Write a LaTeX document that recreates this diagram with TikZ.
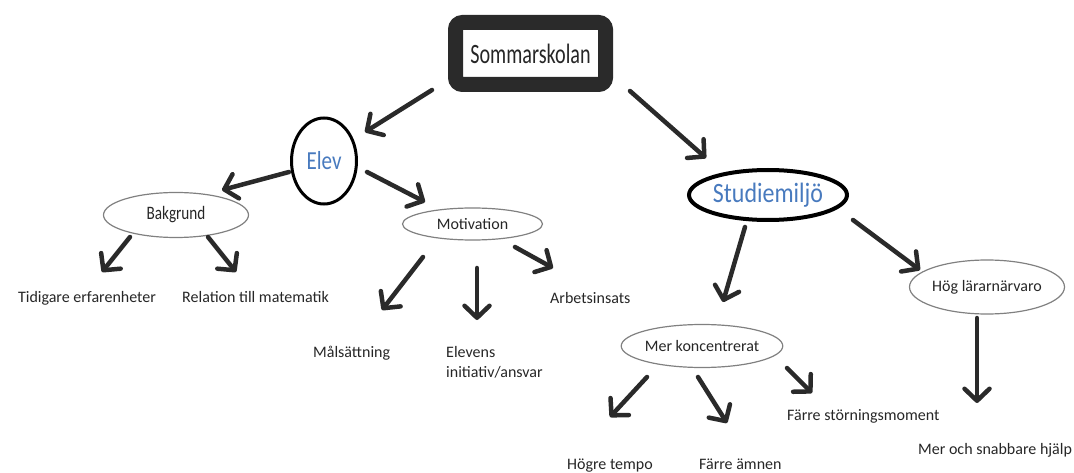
\documentclass[tikz,border=0pt]{standalone}
\usepackage{fontspec}
\setmainfont{Carlito}
\usetikzlibrary{shapes.geometric,arrows.meta,calc}
\definecolor{ink}{HTML}{262626}
\definecolor{arrowc}{HTML}{2A2A2A}
\definecolor{bluetxt}{RGB}{72,122,190}
\definecolor{thin}{HTML}{808080}
\newcommand\myarr[4]{\draw[conn] ($(#1)+(#2)$) -- ($(#3)+(#4)$);}
\begin{document}
\begin{tikzpicture}[x=1pt,y=-1pt,
  lab/.style={font=\fontsize{16}{19}\selectfont, text=ink, inner sep=0pt},
  thinell/.style={ellipse, draw=thin, line width=1.2pt, inner sep=0pt, font=\fontsize{16}{19}\selectfont, text=ink},
  conn/.style={draw=arrowc, line width=4.5pt, line cap=round,
     -{Straight Barb[length=12pt,width=25pt,round]}}]
\useasboundingbox (0,0) rectangle (1074,473);
% top box
\node[draw=arrowc, fill=white, line width=15pt, rounded corners=7pt,
      minimum width=150pt, minimum height=62pt, inner sep=0pt, text=ink,
      font=\fontsize{28}{30}\selectfont] (som) at (530.5,53.5) {\scalebox{0.72}[1]{Sommarskolan}};
% main ellipses
\node[ellipse, draw=black, line width=3pt, minimum width=65pt, minimum height=86pt, inner sep=0pt,
      text=bluetxt, font=\fontsize{26}{28}\selectfont] (elev) at (324,161) {\scalebox{0.81}[1]{Elev}};
\node[ellipse, draw=black, line width=4pt, minimum width=158pt, minimum height=50pt, inner sep=0pt,
      text=bluetxt, font=\fontsize{28}{30}\selectfont] (studie) at (768,195) {\scalebox{0.855}[1]{Studiemiljö}};
% secondary ellipses
\node[thinell, minimum width=145pt, minimum height=45pt, font=\fontsize{19}{21}\selectfont] (bak) at (176,215) {\scalebox{0.8}[1]{Bakgrund}};
\node[thinell, minimum width=140pt, minimum height=32pt] (mot) at (472.5,224) {Motivation};
\node[thinell, minimum width=161pt, minimum height=43pt] (mer) at (702,346) {Mer koncentrerat};
\node[thinell, minimum width=149pt, minimum height=54pt] (hog) at (987,287) {Hög lärarnärvaro};
% leaf texts
\node[lab, anchor=base] (tid) at (87,302) {Tidigare erfarenheter};
\node[lab, anchor=base west] (rel) at (182,302) {Relation till matematik};
\node[lab, anchor=base west] (arb) at (550,303) {Arbetsinsats};
\node[lab, anchor=base west] (mal) at (313,357) {Målsättning};
\node[lab, anchor=base west] (ela) at (446,357) {Elevens};
\node[lab, anchor=base west] (ini) at (446,377) {initiativ/ansvar};
\node[lab, anchor=base west] (fst) at (787,420) {Färre störningsmoment};
\node[lab, anchor=base east] (hgt) at (653,469) {Högre tempo};
\node[lab, anchor=base west] (fam) at (699,469) {Färre ämnen};
\node[lab, anchor=base west] (mos) at (918,454) {Mer och snabbare hjälp};
% connectors
\myarr{som}{-98.5,36.5}{elev}{41,-29}
\myarr{som}{99.5,37.5}{studie}{-62,-37}
\myarr{elev}{-35,11}{bak}{46,-25}
\myarr{elev}{43,11}{mot}{-47.5,-22}
\myarr{bak}{-46,22}{tid.base}{15,-30}
\myarr{bak}{32,22}{rel.base west}{54,-30}
\myarr{mot}{-49.5,33}{mal.base west}{69,-47}
\myarr{mot}{4.5,44}{ela.base west}{31,-37}
\myarr{mot}{42.5,23}{arb.base west}{3,-35}
\myarr{studie}{-23,32}{mer}{21,-44}
\myarr{studie}{85,25}{hog}{-67,-17}
\myarr{mer}{-55,31}{hgt.base east}{-43,-52}
\myarr{mer}{-4,31}{fam.base west}{28,-46}
\myarr{mer}{85,22}{fst.base west}{25,-27}
\myarr{hog}{-10,31}{mos.base west}{59,-51}
\end{tikzpicture}
\end{document}
